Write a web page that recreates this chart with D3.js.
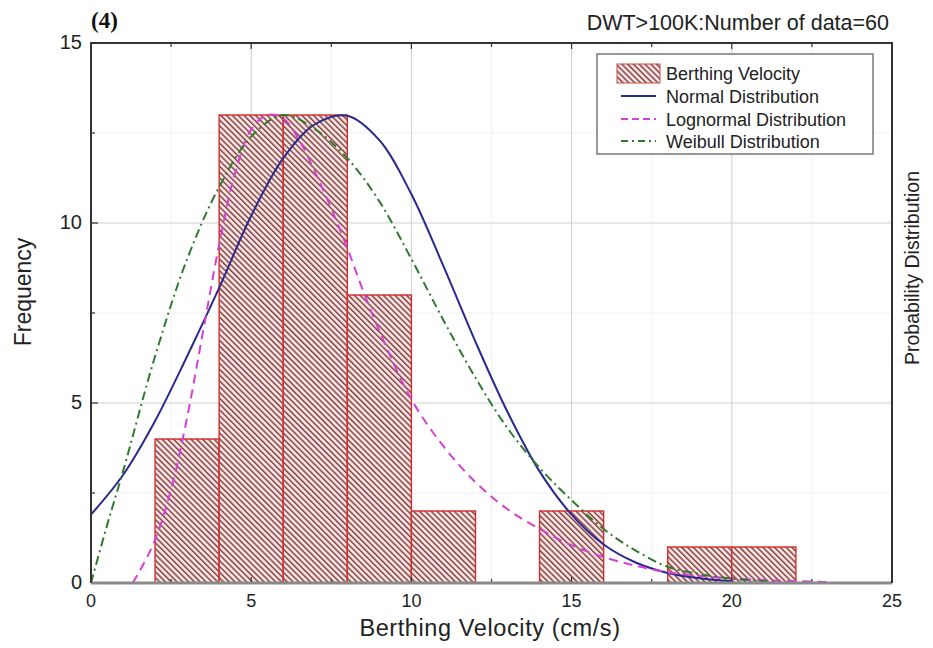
<!DOCTYPE html>
<html lang="en">
  <head>
    <title>Berthing velocity histogram, DWT>100K</title>
    <style>
      body { margin: 0; background: #fff; }
    </style>
  </head>
  <body>
    <div id="viz"></div>
    <script src="https://cdn.jsdelivr.net/npm/d3@7/dist/d3.min.js"></script>
    <script>
      // histogram bins (cm/s) and counts
      const binStarts = [2, 4, 6, 8, 10, 14, 18, 20]
      const binWidth = 2
      const counts = [4, 13, 13, 8, 2, 2, 1, 1]

      // fitted curves (scaled to frequency)
      const normalX = [0, 1, 2, 3, 4, 5, 6, 7, 8, 9, 10, 11, 12, 13, 14, 15, 16, 17, 18, 19, 20]
      const normalY = [1.9, 3.0, 4.5, 6.3, 8.2, 10.2, 11.8, 12.75, 12.98, 12.3, 10.8, 8.8, 6.7, 4.75, 3.1, 1.9, 1.07, 0.57, 0.28, 0.13, 0.05]

      const lognormX = [1.3, 1.5, 2, 2.5, 3, 3.5, 4, 4.5, 5, 5.5, 6, 6.5, 7, 7.5, 8, 8.5, 9, 10, 11, 12, 13, 14, 15, 16, 17, 18, 19, 20, 21, 22, 23]
      const lognormY = [0, 0.3, 1.2, 2.6, 4.6, 7.0, 9.4, 11.4, 12.6, 13.0, 12.9, 12.3, 11.4, 10.4, 9.3, 8.1, 7.0, 5.1, 3.8, 2.8, 2.05, 1.5, 1.05, 0.72, 0.48, 0.3, 0.2, 0.13, 0.08, 0.05, 0.03]

      const weibullX = [0, 0.5, 1, 2, 3, 4, 5, 6, 7, 8, 9, 10, 11, 12, 13, 14, 15, 16, 17, 18, 19, 20, 21, 21.5]
      const weibullY = [0, 1.6, 3.1, 6.3, 9.0, 11.0, 12.4, 13.0, 12.6, 11.8, 10.6, 9.0, 7.3, 5.7, 4.3, 3.2, 2.3, 1.5, 0.9, 0.45, 0.25, 0.12, 0.05, 0.02]

      const xTicks = [0, 5, 10, 15, 20, 25]
      const yTicks = [0, 5, 10, 15]
      const legendLabels = ['Berthing Velocity', 'Normal Distribution', 'Lognormal Distribution', 'Weibull Distribution']

      const sans = '"Liberation Sans", Arial, sans-serif'
      const width = 933
      const height = 648
      const margin = { top: 43, right: 41, bottom: 65, left: 91 }
      const innerW = width - margin.left - margin.right
      const innerH = height - margin.top - margin.bottom

      const svg = d3.select('#viz').append('svg')
        .attr('width', width).attr('height', height)
        .attr('font-family', sans)

      const x = d3.scaleLinear().domain([0, 25]).range([margin.left, margin.left + innerW])
      const y = d3.scaleLinear().domain([0, 15]).range([margin.top + innerH, margin.top])

      // hatch pattern
      const defs = svg.append('defs')
      const pat = defs.append('pattern')
        .attr('id', 'hatch')
        .attr('patternUnits', 'userSpaceOnUse')
        .attr('width', 4.1).attr('height', 10)
        .attr('patternTransform', 'rotate(-45)')
      pat.append('rect').attr('width', 4.1).attr('height', 10).attr('fill', '#fbe2e1')
      pat.append('line').attr('x1', 0.7).attr('x2', 0.7).attr('y1', 0).attr('y2', 10)
        .attr('stroke', '#733232').attr('stroke-width', 1.3)

      // minor grid
      const minor = d3.range(2.5, 25, 5)
      svg.append('g').selectAll('line').data(minor).join('line')
        .attr('x1', d => x(d)).attr('x2', d => x(d))
        .attr('y1', y(0)).attr('y2', y(15))
        .attr('stroke', '#f1f1f1').attr('stroke-width', 1)
      svg.append('g').selectAll('line').data([2.5, 7.5, 12.5]).join('line')
        .attr('x1', x(0)).attr('x2', x(25))
        .attr('y1', d => y(d)).attr('y2', d => y(d))
        .attr('stroke', '#f1f1f1').attr('stroke-width', 1)

      // major grid
      svg.append('g').selectAll('line').data([5, 10, 15, 20]).join('line')
        .attr('x1', d => x(d)).attr('x2', d => x(d))
        .attr('y1', y(0)).attr('y2', y(15))
        .attr('stroke', '#cfcfcf').attr('stroke-width', 1)
      svg.append('g').selectAll('line').data([5, 10]).join('line')
        .attr('x1', x(0)).attr('x2', x(25))
        .attr('y1', d => y(d)).attr('y2', d => y(d))
        .attr('stroke', '#cfcfcf').attr('stroke-width', 1)

      // bars
      svg.append('g').selectAll('rect').data(binStarts).join('rect')
        .attr('x', d => x(d))
        .attr('y', (d, i) => y(counts[i]))
        .attr('width', d => x(d + binWidth) - x(d))
        .attr('height', (d, i) => y(0) - y(counts[i]))
        .attr('fill', 'url(#hatch)')
        .attr('stroke', '#d52a2a')
        .attr('stroke-width', 1.4)

      // curves
      const line = d3.line().x(d => x(d[0])).y(d => y(d[1])).curve(d3.curveCatmullRom.alpha(0.5))
      const series = [
        { xs: normalX, ys: normalY, color: '#2a2a8c', dash: null },
        { xs: lognormX, ys: lognormY, color: '#d43fd4', dash: '9,6' },
        { xs: weibullX, ys: weibullY, color: '#2f7a2f', dash: '9,4,2,4' }
      ]
      series.forEach(s => {
        svg.append('path')
          .datum(s.xs.map((v, i) => [v, s.ys[i]]))
          .attr('d', line)
          .attr('fill', 'none')
          .attr('stroke', s.color)
          .attr('stroke-width', 2)
          .attr('stroke-dasharray', s.dash)
      })

      // ticks (inward)
      const tickG = svg.append('g').attr('stroke', '#333').attr('stroke-width', 1.2)
      d3.range(0, 25.01, 2.5).forEach(v => {
        const len = v % 5 === 0 ? 6 : 4
        tickG.append('line').attr('x1', x(v)).attr('x2', x(v)).attr('y1', y(15)).attr('y2', y(15) + len)
        tickG.append('line').attr('x1', x(v)).attr('x2', x(v)).attr('y1', y(0)).attr('y2', y(0) - len)
      })
      d3.range(0, 15.01, 2.5).forEach(v => {
        const len = v % 5 === 0 ? 7 : 4
        tickG.append('line').attr('x1', x(0)).attr('x2', x(0) + len).attr('y1', y(v)).attr('y2', y(v))
      })

      // frame
      svg.append('line').attr('x1', x(0)).attr('x2', x(25)).attr('y1', y(0)).attr('y2', y(0))
        .attr('stroke', '#8a8a8a').attr('stroke-width', 3)
      svg.append('path')
        .attr('d', `M${x(0)},${y(0)}V${y(15)}H${x(25)}V${y(0)}`)
        .attr('fill', 'none').attr('stroke', '#333').attr('stroke-width', 2)

      // tick labels
      svg.append('g').selectAll('text').data(xTicks).join('text')
        .attr('x', d => x(d)).attr('y', y(0) + 24)
        .attr('text-anchor', 'middle')
        .attr('font-size', 18).attr('fill', '#222')
        .text(d => d)
      svg.append('g').selectAll('text').data(yTicks).join('text')
        .attr('x', x(0) - 9).attr('y', d => y(d) + 6)
        .attr('text-anchor', 'end')
        .attr('font-size', 20).attr('fill', '#222')
        .text(d => d)

      // axis titles
      svg.append('text').attr('x', 490).attr('y', 636)
        .attr('text-anchor', 'middle').attr('font-size', 23.5).attr('letter-spacing', 0.6)
        .attr('fill', '#222')
        .text('Berthing Velocity (cm/s)')
      svg.append('text').attr('transform', 'translate(31,292) rotate(-90)')
        .attr('text-anchor', 'middle').attr('font-size', 23).attr('fill', '#222')
        .text('Frequency')
      svg.append('text').attr('transform', 'translate(919,268) rotate(-90)')
        .attr('text-anchor', 'middle').attr('font-size', 19.5).attr('fill', '#222')
        .text('Probability Distribution')

      // titles
      svg.append('text').attr('x', 91).attr('y', 28)
        .attr('font-family', '"Liberation Serif", "Times New Roman", serif')
        .attr('font-weight', 'bold').attr('font-size', 23).attr('fill', '#111')
        .text('(4)')
      svg.append('text').attr('x', 889).attr('y', 30)
        .attr('text-anchor', 'end').attr('font-size', 21.5).attr('fill', '#222')
        .text('DWT>100K:Number of data=60')

      // legend
      const lg = svg.append('g')
      lg.append('rect').attr('x', 597).attr('y', 54).attr('width', 276).attr('height', 100)
        .attr('fill', '#fff').attr('stroke', '#777').attr('stroke-width', 1.5)
      const rowY = [73, 96, 119, 141]
      lg.append('rect').attr('x', 617).attr('y', 64).attr('width', 43).attr('height', 19)
        .attr('fill', 'url(#hatch)').attr('stroke', '#c94a4a').attr('stroke-width', 1)
      series.forEach((s, i) => {
        lg.append('line').attr('x1', 621).attr('x2', 656)
          .attr('y1', rowY[i + 1]).attr('y2', rowY[i + 1])
          .attr('stroke', s.color).attr('stroke-width', 2)
          .attr('stroke-dasharray', s.dash ? (i === 1 ? '7,4' : '7,4,2,4') : null)
      })
      lg.selectAll('text.lab').data(legendLabels).join('text')
        .attr('class', 'lab')
        .attr('x', 666).attr('y', (d, i) => rowY[i] + 6.5)
        .attr('font-size', 18).attr('fill', '#222')
        .text(d => d)
    </script>
  </body>
</html>
